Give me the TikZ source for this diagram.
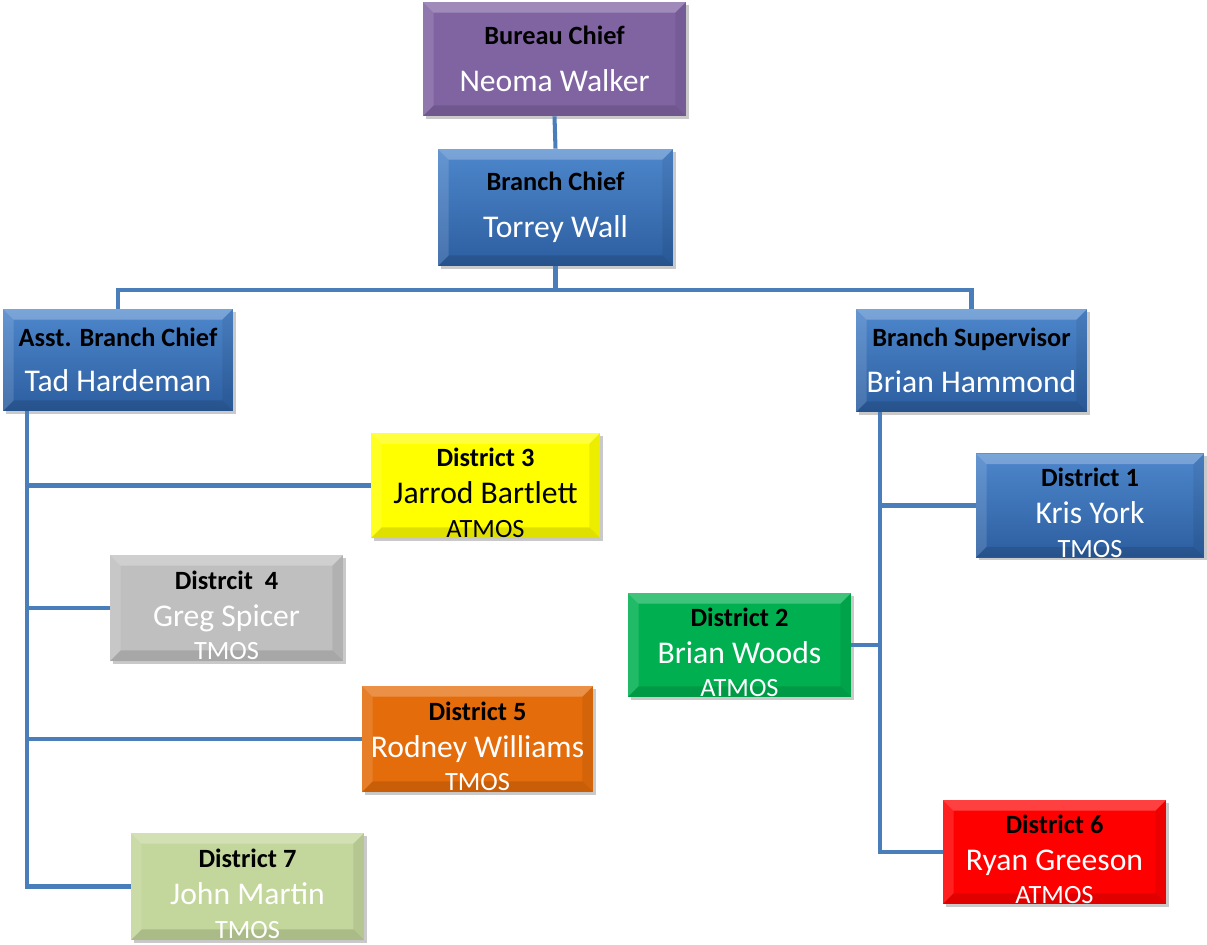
\documentclass[tikz,border=0pt]{standalone}
\usepackage{fontspec}
\setmainfont{Carlito}
\usetikzlibrary{positioning, shadows}

\definecolor{OrgPurple}{RGB}{128, 100, 162}
\definecolor{OrgBlueTop}{RGB}{78, 135, 204}
\definecolor{OrgBlueBot}{RGB}{44, 94, 160}
\definecolor{OrgYellow}{RGB}{255, 255, 0}
\definecolor{OrgGray}{RGB}{191, 191, 191}
\definecolor{OrgOrange}{RGB}{228, 108, 10}
\definecolor{OrgLime}{RGB}{195, 214, 155}
\definecolor{OrgGreen}{RGB}{0, 176, 80}
\definecolor{OrgRed}{RGB}{255, 0, 0}
\definecolor{LinkBlue}{RGB}{74, 126, 187}

\newcommand{\rolename}[1]{{\bfseries\color{black}#1}}
\newcommand{\distname}[1]{\rolename{\rule{0pt}{19pt}#1}}
\newcommand{\person}[1]{{\fontsize{18}{21}\selectfont #1}}

\tikzset{
  orgbox/.style={rectangle, inner sep=0pt, align=center, text=white,
    font=\fontsize{15}{18}\selectfont,
    drop shadow={shadow xshift=1.5pt, shadow yshift=-1.5pt, opacity=0.3, fill=black!70},
    path picture={
      \fill[white, opacity=0.25] (path picture bounding box.north west) -- (path picture bounding box.north east)
        -- ([shift={(-6pt,-6pt)}]path picture bounding box.north east) -- ([shift={(6pt,-6pt)}]path picture bounding box.north west) -- cycle;
      \fill[white, opacity=0.13] (path picture bounding box.north west) -- (path picture bounding box.south west)
        -- ([shift={(6pt,6pt)}]path picture bounding box.south west) -- ([shift={(6pt,-6pt)}]path picture bounding box.north west) -- cycle;
      \fill[black, opacity=0.12] (path picture bounding box.south west) -- (path picture bounding box.south east)
        -- ([shift={(-6pt,6pt)}]path picture bounding box.south east) -- ([shift={(6pt,6pt)}]path picture bounding box.south west) -- cycle;
      \fill[black, opacity=0.07] (path picture bounding box.north east) -- (path picture bounding box.south east)
        -- ([shift={(-6pt,6pt)}]path picture bounding box.south east) -- ([shift={(-6pt,-6pt)}]path picture bounding box.north east) -- cycle;
    }},
  bluebox/.style={orgbox, top color=OrgBlueTop, bottom color=OrgBlueBot},
  link/.style={draw=LinkBlue, line width=2.3pt},
}

\begin{document}
\begin{tikzpicture}[x=0.02cm, y=-0.02cm]
\useasboundingbox (0,0) rectangle (1207,944);

% Top levels
\node[orgbox, fill=OrgPurple, minimum width=5.26cm, minimum height=2.28cm] (bureau) at (554.5,59)
  {\rolename{Bureau Chief}\\[9pt]\person{Neoma Walker}};
\node[bluebox, minimum width=4.7cm, minimum height=2.34cm] (branch) at (555.5,207.5)
  {\rolename{Branch Chief}\\[9pt]\person{Torrey Wall}};
\node[bluebox, minimum width=4.6cm, minimum height=2.04cm] (asst) at (118,360)
  {\rolename{Asst. Branch Chief}\\[8pt]\person{Tad Hardeman}};
\node[bluebox, minimum width=4.62cm, minimum height=2.06cm] (sup) at (971.5,360.5)
  {\rolename{Branch Supervisor}\\[8pt]\person{Brian Hammond}};

% Districts, left side
\node[orgbox, fill=OrgYellow, text=black, minimum width=4.58cm, minimum height=2.1cm] (d3) at (485.5,485.5)
  {\distname{District 3}\\[3pt]\person{Jarrod Bartlett}\\[1pt]ATMOS};
\node[orgbox, fill=OrgGray, minimum width=4.66cm, minimum height=2.12cm] (d4) at (226.5,608)
  {\distname{Distrcit\ \ 4}\\[3pt]\person{Greg Spicer}\\[1pt]TMOS};
\node[orgbox, fill=OrgOrange, minimum width=4.62cm, minimum height=2.12cm] (d5) at (477.5,739)
  {\distname{District 5}\\[3pt]\person{Rodney Williams}\\[1pt]TMOS};
\node[orgbox, fill=OrgLime, minimum width=4.66cm, minimum height=2.14cm] (d7) at (247.5,886.5)
  {\distname{District 7}\\[3pt]\person{John Martin}\\[1pt]TMOS};

% Districts, right side
\node[bluebox, minimum width=4.56cm, minimum height=2.06cm] (d1) at (1090,505.5)
  {\distname{District 1}\\[3pt]\person{Kris York}\\[1pt]TMOS};
\node[orgbox, fill=OrgGreen, minimum width=4.46cm, minimum height=2.04cm] (d2) at (739.5,645)
  {\distname{District 2}\\[3pt]\person{Brian Woods}\\[1pt]ATMOS};
\node[orgbox, fill=OrgRed, minimum width=4.46cm, minimum height=2.04cm] (d6) at (1054.5,852)
  {\distname{District 6}\\[3pt]\person{Ryan Greeson}\\[1pt]ATMOS};

% Connectors
\coordinate (ltrunk) at (27,411);
\coordinate (rtrunk) at (880,412);
\draw[link] (bureau.south) -- (branch.north);
\draw[link] (branch.south) -- ++(0,23);
\draw[link] (asst.north) -- ++(0,-19) -| (sup.north);
\draw[link] (ltrunk) |- (d7.west);
\draw[link] (d3.west -| ltrunk) -- (d3.west);
\draw[link] (d4.west -| ltrunk) -- (d4.west);
\draw[link] (d5.west -| ltrunk) -- (d5.west);
\draw[link] (rtrunk) |- (d6.west);
\draw[link] (d1.west -| rtrunk) -- (d1.west);
\draw[link] (d2.east -| rtrunk) -- (d2.east);
\end{tikzpicture}
\end{document}
